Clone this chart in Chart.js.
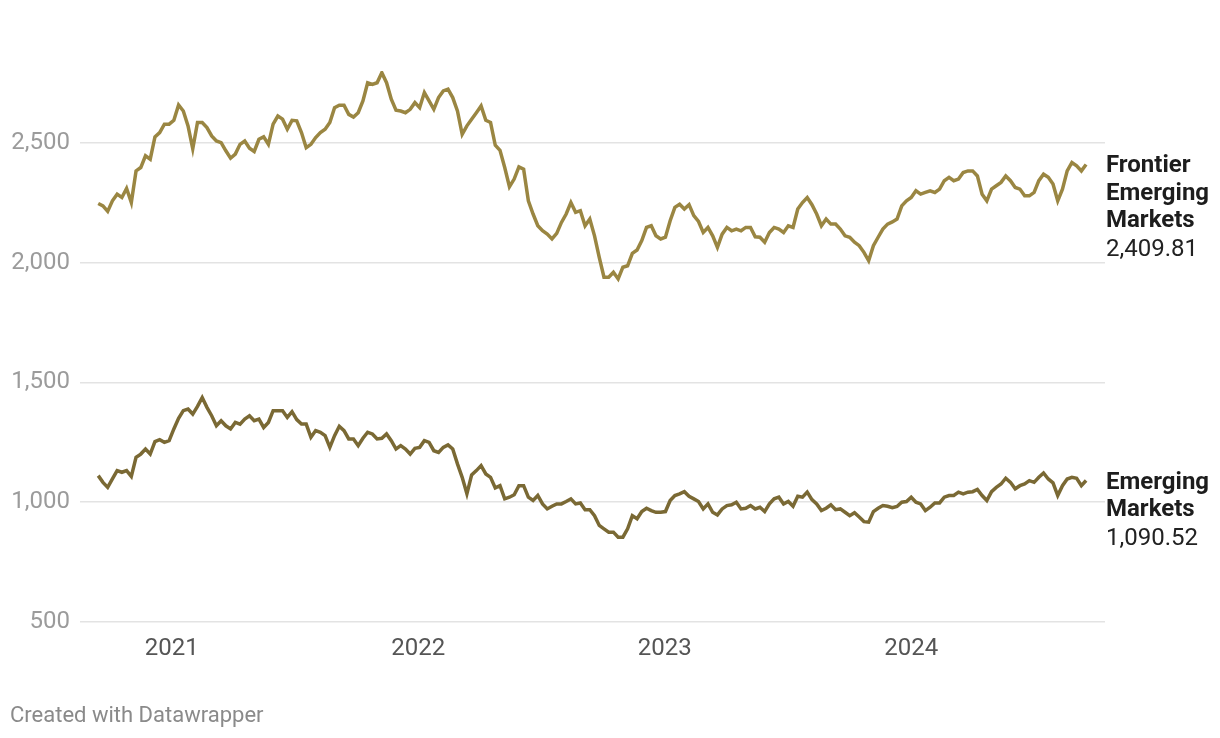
<!DOCTYPE html>
<html>
<head>
<meta charset="utf-8">
<script src="https://cdn.jsdelivr.net/npm/chart.js@4"></script>
<style>
  body { margin: 0; background: #fff; }
  #wrap { width: 1220px; height: 738px; position: relative; }
</style>
</head>
<body>
<div id="wrap"><canvas id="grafico"></canvas></div>
<script>
// weekly closes, starting 2020-09-14
const startDay = [2020, 8, 14];

const frontier = [
  2247, 2237, 2214, 2258, 2286, 2272, 2310, 2251, 2383, 2397,
  2446, 2432, 2525, 2543, 2578, 2578, 2594, 2658, 2633, 2571,
  2475, 2585, 2585, 2564, 2529, 2508, 2501, 2467, 2436, 2453,
  2494, 2508, 2478, 2464, 2515, 2525, 2494, 2578, 2612, 2599,
  2557, 2594, 2592, 2543, 2480, 2494, 2522, 2543, 2557, 2585,
  2647, 2657, 2657, 2619, 2608, 2626, 2675, 2751, 2744, 2751,
  2793, 2751, 2682, 2636, 2633, 2626, 2640, 2668, 2647, 2710,
  2675, 2640, 2689, 2717, 2724, 2689, 2633, 2536, 2571, 2599,
  2626, 2654, 2594, 2585, 2490, 2469, 2397, 2317, 2349, 2400,
  2390, 2258, 2203, 2154, 2133, 2119, 2099, 2122, 2168, 2203,
  2251, 2210, 2217, 2154, 2182, 2112, 2022, 1939, 1939, 1960,
  1932, 1981, 1987, 2039, 2053, 2092, 2147, 2154, 2112, 2099,
  2106, 2175, 2231, 2244, 2224, 2242, 2196, 2172, 2126, 2147,
  2112, 2064, 2119, 2147, 2133, 2140, 2133, 2147, 2147, 2108,
  2106, 2085, 2126, 2147, 2140, 2126, 2154, 2147, 2224, 2251,
  2272, 2242, 2203, 2154, 2182, 2161, 2161, 2140, 2112, 2106,
  2085, 2071, 2043, 2008, 2071, 2106, 2140, 2161, 2170, 2182,
  2237, 2258, 2272, 2300, 2286, 2293, 2300, 2293, 2307, 2342,
  2356, 2342, 2349, 2376, 2383, 2383, 2362, 2286, 2258, 2307,
  2321, 2335, 2362, 2342, 2314, 2307, 2279, 2279, 2293, 2342,
  2369, 2356, 2328, 2258, 2307, 2383, 2418, 2404, 2383, 2409.81
];

const emerging = [
  1111, 1083, 1062, 1097, 1132, 1125, 1132, 1108, 1187, 1201,
  1222, 1201, 1253, 1261, 1250, 1257, 1306, 1350, 1382, 1389,
  1368, 1400, 1437, 1396, 1361, 1319, 1340, 1319, 1306, 1333,
  1326, 1347, 1361, 1340, 1347, 1312, 1333, 1382, 1382, 1382,
  1354, 1378, 1345, 1326, 1326, 1271, 1299, 1292, 1278, 1229,
  1278, 1317, 1299, 1264, 1264, 1236, 1267, 1292, 1285, 1264,
  1267, 1285, 1257, 1222, 1236, 1222, 1201, 1225, 1229, 1257,
  1250, 1215, 1208, 1229, 1239, 1222, 1160, 1104, 1035, 1114,
  1132, 1153, 1118, 1104, 1060, 1069, 1014, 1021, 1031, 1069,
  1069, 1021, 1007, 1028, 993, 972, 983, 993, 993, 1003,
  1014, 993, 997, 969, 969, 944, 903, 889, 875, 875,
  854, 854, 889, 944, 931, 961, 975, 965, 958, 958,
  961, 1007, 1028, 1035, 1044, 1025, 1014, 1003, 972, 993,
  958, 947, 972, 986, 989, 1000, 972, 975, 986, 972,
  979, 961, 993, 1014, 1021, 993, 1003, 983, 1025, 1021,
  1042, 1011, 993, 965, 975, 989, 969, 972, 958, 944,
  956, 938, 919, 917, 961, 975, 986, 983, 977, 982,
  1000, 1003, 1021, 1000, 993, 965, 979, 997, 997, 1021,
  1028, 1028, 1042, 1035, 1042, 1044, 1053, 1028, 1007, 1044,
  1062, 1076, 1100, 1083, 1056, 1069, 1076, 1090, 1083, 1104,
  1122, 1097, 1081, 1028, 1069, 1097, 1104, 1100, 1069, 1090.52
];

const seriesNames = [['Frontier', 'Emerging', 'Markets'], ['Emerging', 'Markets']];
const yTicks = [500, 1000, 1500, 2000, 2500];
const xYears = [2021, 2022, 2023, 2024];

const dates = [];
for (let i = 0; i < frontier.length; i++) {
  dates.push(Date.UTC(startDay[0], startDay[1], startDay[2] + 7 * i));
}

const fmt = v => v.toLocaleString('en-US', { maximumFractionDigits: 2 });

const etiquetas = {
  id: 'etiquetas',
  afterDraw(chart) {
    const ctx = chart.ctx;
    const y = chart.scales.y;
    const x0 = chart.chartArea.right + 1;
    ctx.save();
    ctx.textAlign = 'left';
    ctx.textBaseline = 'middle';
    chart.data.datasets.forEach((ds, k) => {
      const last = ds.data[ds.data.length - 1].y;
      let py = y.getPixelForValue(last) + 2;
      ctx.fillStyle = '#1d1d1d';
      ctx.font = 'bold 24px Roboto';
      seriesNames[k].forEach(t => {
        ctx.fillText(t, x0, py);
        py += 27.5;
      });
      ctx.fillStyle = '#222';
      ctx.font = '24px Roboto';
      ctx.fillText(last.toLocaleString('en-US', { minimumFractionDigits: 2 }), x0, py + 1);
    });
    // rodapé
    ctx.fillStyle = '#8a8a8a';
    ctx.font = '22px Roboto';
    ctx.textBaseline = 'alphabetic';
    ctx.fillText('Created with Datawrapper', 10, 722);
    ctx.restore();
  }
};

new Chart(document.getElementById('grafico'), {
  type: 'line',
  data: {
    datasets: [{
      label: 'Frontier Emerging Markets',
      data: frontier.map((v, i) => ({ x: dates[i], y: v })),
      borderColor: '#9a8642',
      borderWidth: 3.5,
      pointRadius: 0,
      tension: 0
    }, {
      label: 'Emerging Markets',
      data: emerging.map((v, i) => ({ x: dates[i], y: v })),
      borderColor: '#7a6934',
      borderWidth: 3.5,
      pointRadius: 0,
      tension: 0
    }]
  },
  options: {
    responsive: true,
    maintainAspectRatio: false,
    animation: false,
    layout: { padding: { top: 71, right: 115, bottom: 76, left: 0 } },
    plugins: {
      legend: { display: false },
      tooltip: { enabled: false }
    },
    scales: {
      x: {
        type: 'linear',
        min: Date.UTC(2020, 7, 18),
        max: Date.UTC(2024, 9, 14),
        afterBuildTicks: s => { s.ticks = xYears.map(yr => ({ value: Date.UTC(yr, 0, 1) })); },
        afterFit: s => { s.height = 40; },
        grid: { display: false, drawTicks: false },
        border: { display: false },
        ticks: {
          padding: 13,
          color: '#555',
          font: { family: 'Roboto', size: 24 },
          maxRotation: 0,
          callback: v => new Date(v).getUTCFullYear()
        }
      },
      y: {
        min: 500,
        max: 2800,
        afterBuildTicks: s => { s.ticks = yTicks.map(v => ({ value: v })); },
        afterFit: s => { s.width = 80; },
        grid: { color: '#e3e3e3', lineWidth: 1.5, drawTicks: false },
        border: { display: false },
        ticks: {
          padding: 10,
          color: '#9b9b9b',
          font: { family: 'Roboto', size: 24 },
          callback: v => fmt(v)
        }
      }
    }
  },
  plugins: [etiquetas]
});
</script>
</body>
</html>
